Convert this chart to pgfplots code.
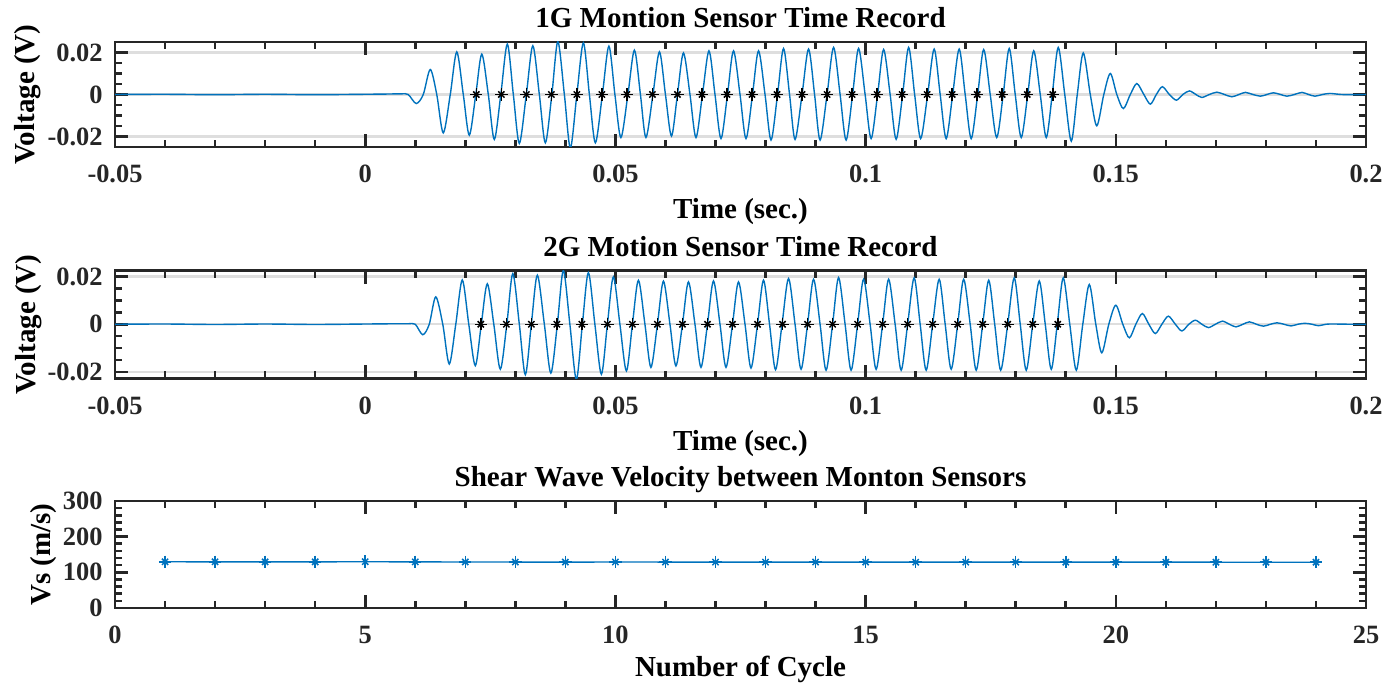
\documentclass[border=0pt]{standalone}
\usepackage{fontspec}
\setmainfont{Liberation Serif}
\usepackage{pgfplots}
\usepackage{pgfplotstable}
\pgfplotsset{compat=1.18}

\definecolor{mblue}{rgb}{0,0.447,0.741}
\definecolor{axgray}{rgb}{0.15,0.15,0.15}
\definecolor{gridgray}{rgb}{0.87,0.87,0.87}

\pgfplotstableread{
t v
-0.05 0
-0.04 0.0001
-0.03 -0.0001
-0.02 0.0001
-0.01 -0.0001
0.0 0.0001
0.004 0.0002
0.0072 0.0003
0.0086 0
0.0102 -0.0043
0.0116 0
0.0130 0.0119
0.0143 0
0.0156 -0.0183
0.0170 0
0.0183 0.0203
0.0196 0
0.0208 -0.0194
0.0221 0
0.0233 0.0192
0.0246 0
0.0258 -0.0214
0.0271 0
0.0284 0.0240
0.0296 0
0.0308 -0.0233
0.0322 0
0.0335 0.0232
0.0348 0
0.0360 -0.0230
0.0373 0
0.0385 0.0252
0.0398 0
0.0410 -0.0255
0.0423 0
0.0436 0.0246
0.0448 0
0.0460 -0.0230
0.0474 0
0.0487 0.0230
0.0499 0
0.0511 -0.0205
0.0525 0
0.0538 0.0211
0.0550 0
0.0561 -0.0205
0.0575 0
0.0588 0.0203
0.0600 0
0.0612 -0.0198
0.0624 0
0.0636 0.0198
0.0649 0
0.0661 -0.0205
0.0674 0
0.0687 0.0208
0.0699 0
0.0711 -0.0210
0.0724 0
0.0736 0.0208
0.0749 0
0.0761 -0.0210
0.0774 0
0.0786 0.0208
0.0799 0
0.0811 -0.0217
0.0824 0
0.0836 0.0219
0.0848 0
0.0859 -0.0214
0.0873 0
0.0886 0.0216
0.0898 0
0.0909 -0.0217
0.0923 0
0.0936 0.0224
0.0949 0
0.0961 -0.0217
0.0974 0
0.0986 0.0219
0.0999 0
0.1011 -0.0210
0.1024 0
0.1036 0.0214
0.1049 0
0.1061 -0.0213
0.1074 0
0.1086 0.0224
0.1098 0
0.1110 -0.0210
0.1124 0
0.1137 0.0216
0.1149 0
0.1161 -0.0210
0.1174 0
0.1187 0.0216
0.1199 0
0.1211 -0.0210
0.1224 0
0.1236 0.0214
0.1249 0
0.1262 -0.0205
0.1275 0
0.1287 0.0219
0.1299 0
0.1311 -0.0205
0.1324 0
0.1336 0.0208
0.1349 0
0.1361 -0.0205
0.1373 0
0.1385 0.0224
0.1398 0
0.1411 -0.0222
0.1423 0
0.1435 0.0198
0.1449 0
0.1462 -0.0149
0.1476 0
0.1489 0.0100
0.1502 0
0.1515 -0.0067
0.1529 0
0.1542 0.0052
0.1556 0
0.1569 -0.0046
0.1581 0
0.1593 0.0037
0.1607 0
0.1621 -0.0027
0.1634 0
0.1647 0.0017
0.1660 0
0.1672 -0.0014
0.1687 0
0.1702 0.0011
0.1717 0
0.1732 -0.0011
0.1746 0
0.1759 0.0010
0.1774 0
0.1789 -0.0008
0.1802 0
0.1815 0.0008
0.1829 0
0.1842 -0.0008
0.1857 0
0.1872 0.0010
0.1885 0
0.1898 -0.0008
0.1913 0
0.1928 0.0005
0.1950 0
0.1975 -0.0001
0.2 0
}\waveA

\pgfplotstableread{
t v
-0.05 0
-0.04 0.0001
-0.03 -0.0001
-0.02 0.0001
-0.01 -0.0001
0.0 0.0001
0.005 0.0002
0.0085 0.0002
0.0100 0
0.0115 -0.0044
0.0128 0
0.0141 0.0115
0.0155 0
0.0168 -0.0167
0.0181 0
0.0194 0.0186
0.0207 0
0.0220 -0.0174
0.0232 0
0.0244 0.0170
0.0257 0
0.0270 -0.0189
0.0283 0
0.0295 0.0213
0.0308 0
0.0320 -0.0212
0.0332 0
0.0344 0.0206
0.0358 0
0.0371 -0.0205
0.0384 0
0.0396 0.0226
0.0409 0
0.0422 -0.0232
0.0434 0
0.0446 0.0217
0.0459 0
0.0472 -0.0210
0.0484 0
0.0496 0.0199
0.0509 0
0.0522 -0.0196
0.0534 0
0.0546 0.0185
0.0559 0
0.0571 -0.0181
0.0584 0
0.0596 0.0181
0.0609 0
0.0621 -0.0175
0.0634 0
0.0646 0.0178
0.0659 0
0.0671 -0.0181
0.0684 0
0.0696 0.0182
0.0709 0
0.0721 -0.0181
0.0734 0
0.0746 0.0178
0.0759 0
0.0771 -0.0184
0.0784 0
0.0796 0.0185
0.0808 0
0.0820 -0.0191
0.0833 0
0.0846 0.0192
0.0859 0
0.0871 -0.0189
0.0884 0
0.0896 0.0189
0.0909 0
0.0921 -0.0193
0.0934 0
0.0946 0.0196
0.0959 0
0.0971 -0.0193
0.0984 0
0.0996 0.0189
0.1009 0
0.1021 -0.0189
0.1034 0
0.1046 0.0189
0.1059 0
0.1071 -0.0193
0.1084 0
0.1097 0.0195
0.1109 0
0.1121 -0.0193
0.1134 0
0.1147 0.0189
0.1159 0
0.1171 -0.0189
0.1184 0
0.1196 0.0189
0.1209 0
0.1221 -0.0193
0.1234 0
0.1246 0.0185
0.1258 0
0.1270 -0.0193
0.1284 0
0.1297 0.0195
0.1309 0
0.1321 -0.0193
0.1334 0
0.1347 0.0182
0.1359 0
0.1371 -0.0189
0.1383 0
0.1395 0.0195
0.1408 0
0.1421 -0.0193
0.1434 0
0.1447 0.0167
0.1460 0
0.1472 -0.0120
0.1486 0
0.1500 0.0080
0.1514 0
0.1527 -0.0057
0.1540 0
0.1553 0.0045
0.1566 0
0.1579 -0.0039
0.1592 0
0.1605 0.0034
0.1619 0
0.1632 -0.0028
0.1646 0
0.1659 0.0017
0.1672 0
0.1685 -0.0014
0.1699 0
0.1713 0.0013
0.1727 0
0.1740 -0.0011
0.1754 0
0.1767 0.0010
0.1781 0
0.1795 -0.0008
0.1809 0
0.1822 0.0006
0.1836 0
0.1850 -0.0007
0.1864 0
0.1878 0.0004
0.1892 0
0.1905 -0.0006
0.1920 0
0.1935 0.0001
0.1970 0
0.2 0
}\waveB

\pgfplotstableread{
t v
0.0222 0
0.0272 0
0.0322 0
0.0372 0
0.0423 0
0.0473 0
0.0523 0
0.0574 0
0.0624 0
0.0673 0
0.0723 0
0.0773 0
0.0823 0
0.0873 0
0.0923 0
0.0973 0
0.1023 0
0.1073 0
0.1123 0
0.1173 0
0.1223 0
0.1273 0
0.1323 0
0.1374 0
}\markA

\pgfplotstableread{
t v
0.0231 0
0.0282 0
0.0332 0
0.0383 0
0.0433 0
0.0484 0
0.0534 0
0.0584 0
0.0634 0
0.0684 0
0.0734 0
0.0784 0
0.0834 0
0.0884 0
0.0934 0
0.0984 0
0.1034 0
0.1084 0
0.1134 0
0.1184 0
0.1234 0
0.1284 0
0.1334 0
0.1384 0
}\markB

\pgfplotstableread{
n vs
1 129.6
2 129.4
3 129.3
4 129.3
5 129.8
6 129.2
7 129.0
8 128.8
9 128.7
10 128.9
11 128.8
12 128.7
13 128.6
14 128.7
15 128.6
16 128.5
17 128.6
18 128.5
19 128.4
20 128.5
21 128.4
22 128.4
23 128.3
24 128.3
}\vsdata

\pgfplotsset{
  mlstyle/.style={
    scale only axis,
    width=625.5pt,
    scaled ticks=false,
    axis line style={line width=1.3pt, color=axgray},
    every tick/.append style={line width=1.3pt, color=axgray},
    major tick length=6.5pt,
    minor tick length=3.7pt,
    tick align=inside,
    tick pos=both,
    ymajorgrids,
    major grid style={line width=1.2pt, color=gridgray},
    tick label style={font=\bfseries\fontsize{13.2}{15}\selectfont, text=axgray},
    xticklabel style={anchor=base, yshift=-18pt},
    yticklabel style={anchor=east, inner sep=0pt, xshift=-6pt},
    every axis title/.style={at={(axis description cs:0.5,1)}, anchor=base, yshift=7pt, font=\bfseries\fontsize{14.5}{16}\selectfont},
    every axis x label/.style={at={(axis description cs:0.5,0)}, anchor=base, yshift=-36pt, font=\bfseries\fontsize{14.5}{16}\selectfont},
    every axis y label/.style={at={(axis description cs:0,0.5)}, xshift=-40pt, rotate=90, anchor=base, font=\bfseries\fontsize{14.5}{16}\selectfont},
  },
  wavestyle/.style={
    mlstyle,
    xmin=-0.05, xmax=0.2,
    xtick={-0.05,0,0.05,0.1,0.15,0.2},
    xticklabels={-0.05,0,0.05,0.1,0.15,0.2},
    minor x tick num=4,
    ytick={-0.02,0,0.02},
    yticklabels={-0.02,0,0.02},
    minor y tick num=3,
    xlabel={Time (sec.)},
    ylabel={Voltage (V)},
  },
  starA/.style={only marks, mark=+, mark size=3.1pt, mark options={line width=0.75pt}},
  starB/.style={only marks, mark=x, mark size=2.2pt, mark options={line width=0.75pt}},
}

\begin{document}
\begin{tikzpicture}
\useasboundingbox (0,0) rectangle (692.5pt,341.5pt);

\begin{axis}[wavestyle, at={(57.5pt,268pt)}, anchor=south west, height=52.5pt,
  ymin=-0.025, ymax=0.025,
  title={1G Montion Sensor Time Record}]
\addplot[mblue, line width=0.7pt, smooth] table[x=t, y=v] {\waveA};
\addplot[black, starA] table[x=t, y=v] {\markA};
\addplot[black, starB] table[x=t, y=v] {\markA};
\end{axis}

\begin{axis}[wavestyle, at={(57.5pt,152.35pt)}, anchor=south west, height=53.8pt,
  ymin=-0.0227, ymax=0.0225,
  title={2G Motion Sensor Time Record}]
\addplot[mblue, line width=0.7pt, smooth] table[x=t, y=v] {\waveB};
\addplot[black, starA] table[x=t, y=v] {\markB};
\addplot[black, starB] table[x=t, y=v] {\markB};
\end{axis}

\begin{axis}[mlstyle, at={(57.5pt,37.5pt)}, anchor=south west, height=53.5pt,
  xmin=0, xmax=25, ymin=0, ymax=300,
  xtick={0,5,10,15,20,25}, xticklabels={0,5,10,15,20,25},
  minor x tick num=4,
  ytick={0,100,200,300}, yticklabels={0,100,200,300},
  minor y tick num=4,
  ymajorgrids=false,
  title={Shear Wave Velocity between Monton Sensors},
  xlabel={Number of Cycle},
  ylabel={Vs (m/s)},
  every axis x label/.style={at={(axis description cs:0.5,0)}, anchor=base, yshift=-34.5pt, font=\bfseries\fontsize{14.5}{16}\selectfont},
  every axis y label/.style={at={(axis description cs:0,0.5)}, xshift=-32pt, rotate=90, anchor=base, font=\bfseries\fontsize{14.5}{16}\selectfont}]
\addplot[mblue, line width=0.7pt] table[x=n, y=vs] {\vsdata};
\addplot[mblue, starA] table[x=n, y=vs] {\vsdata};
\addplot[mblue, starB] table[x=n, y=vs] {\vsdata};
\end{axis}
\end{tikzpicture}
\end{document}
